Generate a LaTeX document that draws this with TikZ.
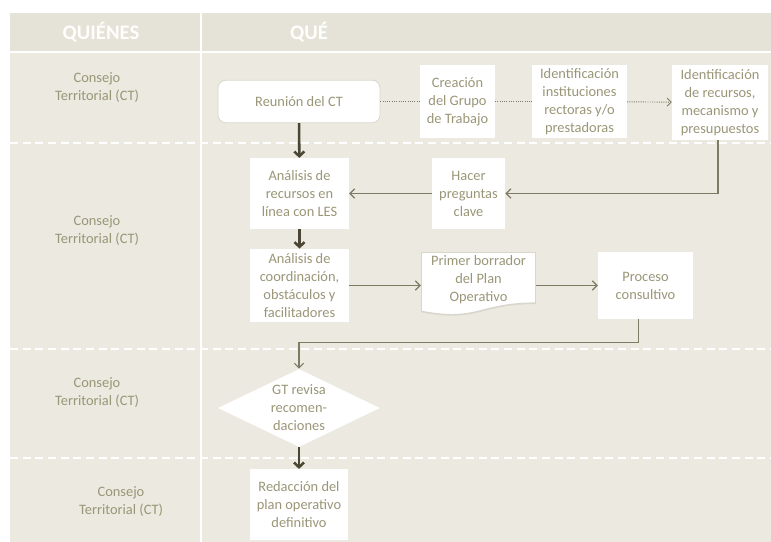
\documentclass[tikz,border=0pt]{standalone}
\usepackage{fontspec}
\setmainfont{Carlito}
\usetikzlibrary{shapes.geometric,arrows.meta}
\definecolor{tablebg}{HTML}{EBE9E0}
\definecolor{headbg}{HTML}{E5E2D7}
\definecolor{labeltext}{HTML}{9A9677}
\definecolor{darkline}{HTML}{4A4633}
\definecolor{thinline}{HTML}{7E7A64}
\definecolor{boxline}{HTML}{D9D7CC}

\begin{document}
\begin{tikzpicture}
\tikzset{sepline/.style={draw=white,line width=1.5pt}}
\tikzset{rowline/.style={draw=white,line width=1.1pt,dash pattern=on 6pt off 3.5pt}}
\tikzset{headtext/.style={text=white!96!headbg,font=\fontsize{15.5}{18}\selectfont\bfseries,anchor=center}}
\tikzset{who/.style={text=labeltext,align=center,font=\fontsize{10.8}{13.5}\selectfont,anchor=center}}
\tikzset{box/.style={fill=white,text=labeltext,align=center,inner sep=0pt,font=\fontsize{10.8}{13.5}\selectfont,anchor=center}}
\tikzset{roundbox/.style={box,draw=boxline,line width=0.6pt,rounded corners=6pt}}
\tikzset{docbox/.style={box,fill=none,path picture={
  \path[fill=white,draw=boxline,line width=1.2pt] (path picture bounding box.north west) -- (path picture bounding box.north east)
    -- ([yshift=9.6pt]path picture bounding box.south east)
    .. controls ([xshift=-43pt,yshift=9.6pt]path picture bounding box.south east) and ([xshift=43pt,yshift=-4.8pt]path picture bounding box.south west)
    .. ([yshift=3.4pt]path picture bounding box.south west) -- cycle;}}}
\tikzset{decision/.style={diamond,fill=white,inner sep=0pt,minimum width=121.5pt,minimum height=58.5pt,anchor=center}}
\tikzset{dotline/.style={draw=thinline,line width=0.7pt,densely dotted}}
\tikzset{thinarrow/.style={draw=thinline,line width=0.9pt,-{Straight Barb[length=3.5pt,width=7pt]}}}
\tikzset{thickarrow/.style={draw=darkline,line width=1.9pt,-{Straight Barb[length=3.5pt,width=7.5pt]}}}

\begin{scope}[x={(0.75pt,0pt)},y={(0pt,-0.75pt)}]

\useasboundingbox (0,0) rectangle (771,542);
\fill[white] (0,0) rectangle (771,542);
\fill[tablebg] (10,13) rectangle (771,542);
\fill[headbg] (10,13) rectangle (771,52);

\draw[sepline] (201,13) -- (201,542);
\draw[sepline] (10,52) -- (771,52);
\foreach \y in {143,349,458} {
  \draw[rowline] (10,\y) -- (771,\y);
}

\node[headtext] (quienes) at (101,32) {QUIÉNES};
\node[headtext] (que) at (309,32) {QUÉ};

\node[who] (ct1) at (97,88) {Consejo\\Territorial (CT)};
\node[who] (ct2) at (97,231) {Consejo\\Territorial (CT)};
\node[who] (ct3) at (97,393) {Consejo\\Territorial (CT)};
\node[who] (ct4) at (121,502) {Consejo\\Territorial (CT)};

\node[roundbox,minimum width=121.5pt,minimum height=32pt] (reunion) at (299,101.5) {Reunión del CT};
\node[box,minimum width=56pt,minimum height=54pt] (creacion) at (457.5,101.5) {Creación\\del Grupo\\de Trabajo};
\node[box,minimum width=71pt,minimum height=54pt] (identinst) at (579.5,101.5) {Identificación\\instituciones\\rectoras y/o\\prestadoras};
\node[box,minimum width=72pt,minimum height=56pt] (identrec) at (720,102.5) {Identificación\\de recursos,\\mecanismo y\\presupuestos};

\node[box,minimum width=74pt,minimum height=53pt] (analrec) at (299.5,193.5) {Análisis de\\recursos en\\línea con LES};
\node[box,minimum width=55pt,minimum height=53pt] (hacer) at (468.5,193.5) {Hacer\\preguntas\\clave};
\node[box,minimum width=74pt,minimum height=55pt] (analcoord) at (299.5,285.5) {Análisis de\\coordinación,\\obstáculos y\\facilitadores};
\node[docbox,minimum width=86pt,minimum height=48pt] (borrador) at (478.5,284) {Primer borrador\\del Plan\\Operativo\rule[-8pt]{0pt}{0pt}};
\node[box,minimum width=71pt,minimum height=50pt] (proceso) at (645.5,285.5) {Proceso\\consultivo};

\node[decision] (revisa) at (299,408) {};
\node[who,text=labeltext] (revisatxt) at (revisa) {GT revisa\\recomen-\\daciones};
\node[box,minimum width=74pt,minimum height=53pt] (redaccion) at (299,504.5) {Redacción del\\plan operativo\\definitivo};

\draw[dotline] (reunion) -- (creacion);
\draw[dotline] (creacion) -- (identinst);
\draw[dotline,-{Straight Barb[length=3pt,width=6pt]}] (identinst) -- (identrec);

\draw[thickarrow] (reunion) -- (analrec);
\draw[thickarrow] (analrec) -- (analcoord);
\draw[thickarrow] (revisa) -- (redaccion);

\draw[thinarrow] ([xshift=-1.5pt]identrec.south) |- (hacer.east);
\draw[thinarrow] (hacer) -- (analrec);
\draw[thinarrow] (analcoord) -- (borrador.west |- analcoord);
\draw[thinarrow] (borrador.east |- proceso) -- (proceso);
\draw[thinarrow] ([xshift=-5pt]proceso.south) -- ++(0,23) -| (revisa.north);

\end{scope}
\end{tikzpicture}
\end{document}
